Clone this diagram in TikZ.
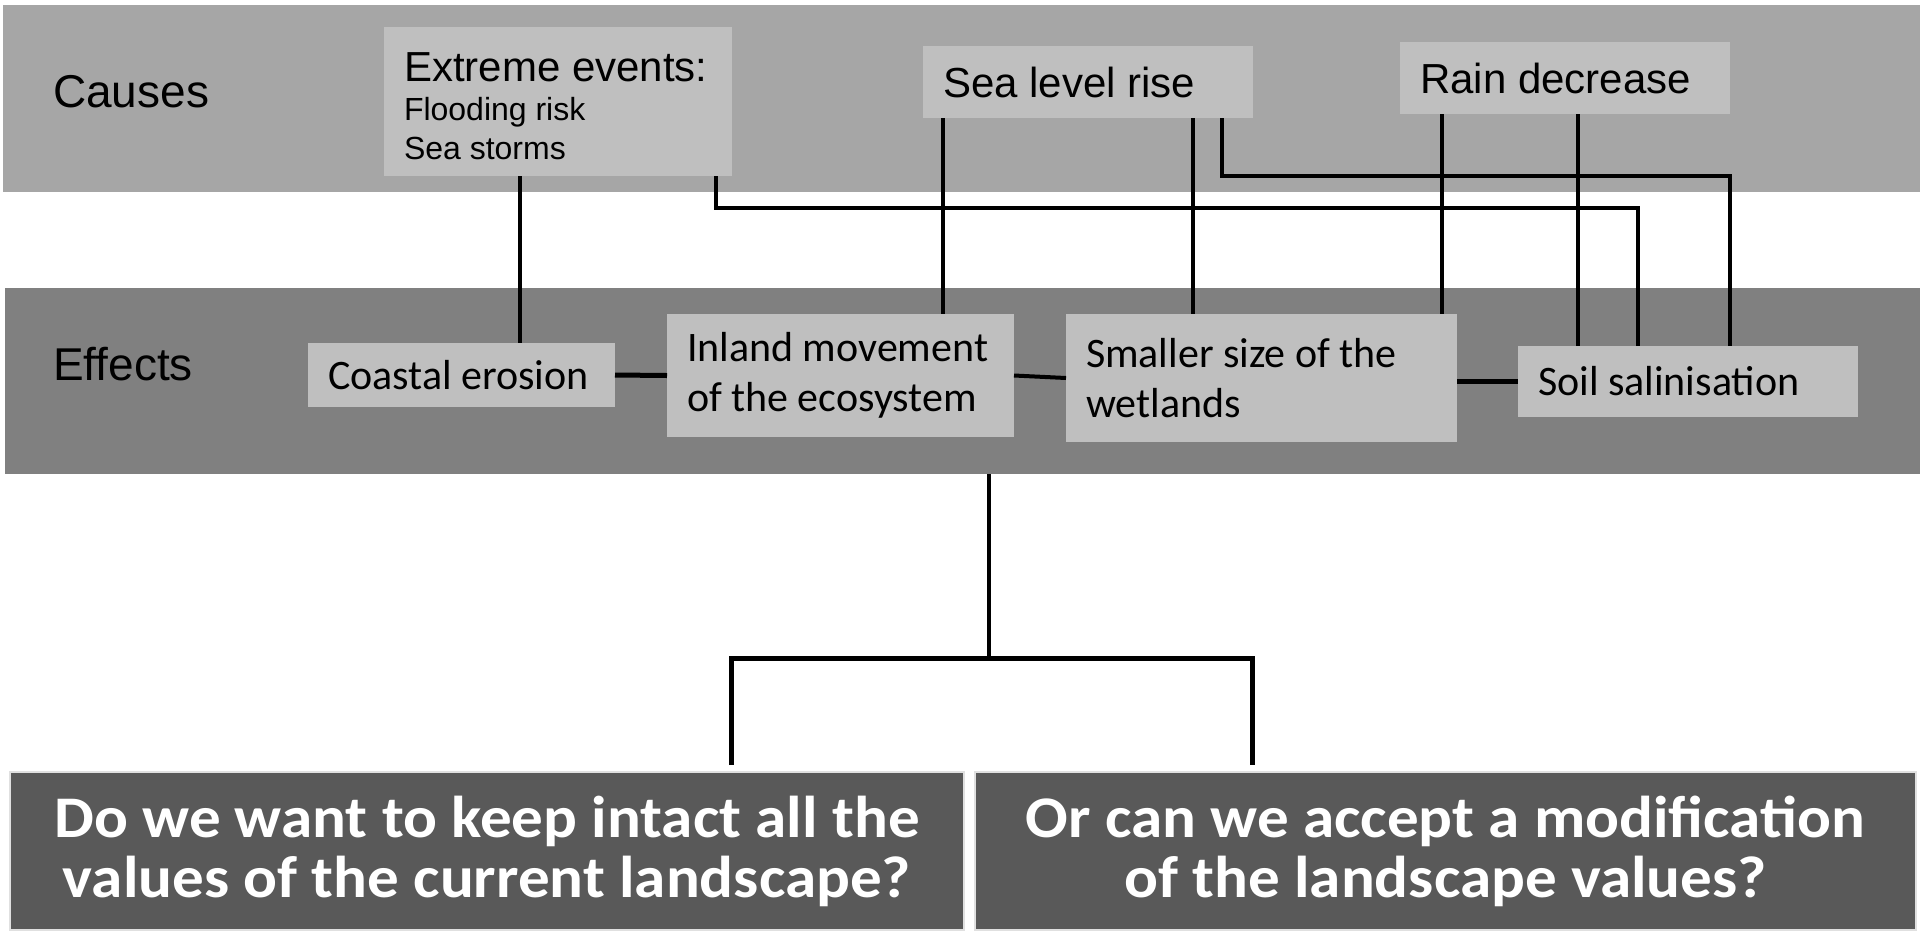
\documentclass[tikz,border=0pt]{standalone}
\usepackage{fontspec}
\setmainfont{Liberation Sans}
\newfontfamily\calib{Carlito}
\newfontfamily\calibwide{Carlito}[FakeStretch=1.07]
\definecolor{causesg}{HTML}{A6A6A6}
\definecolor{boxg}{HTML}{BFBFBF}
\definecolor{effg}{HTML}{808080}
\definecolor{qg}{HTML}{595959}
\newcommand\myresetspaces{\spaceskip=\fontdimen2\font\relax\xspaceskip=\fontdimen2\font\relax}
\begin{document}
\begin{tikzpicture}[x=1pt,y=-1pt,
 band/.style={draw=none,inner sep=0pt,outer sep=0pt,anchor=north west},
 causebox/.style={fill=boxg,inner xsep=20pt,inner ysep=0pt,outer sep=0pt,anchor=north west,align=left,font=\fontsize{42}{39}\selectfont,execute at begin node=\myresetspaces},
 effbox/.style={fill=boxg,inner xsep=20pt,inner ysep=0pt,outer sep=0pt,anchor=north west,align=left,font=\calib\fontsize{42}{50}\selectfont,execute at begin node=\myresetspaces},
 qbox/.style={fill=qg,draw=white!88!black,line width=1.5pt,inner xsep=10pt,inner ysep=0pt,outer sep=0pt,anchor=north west,align=center,text=white,font=\calibwide\bfseries\fontsize{59}{60}\selectfont,execute at begin node=\myresetspaces},
 bandlabel/.style={anchor=base west,inner sep=0pt,font=\fontsize{46}{50}\selectfont},
 conn/.style={line width=4pt},
 hconn/.style={line width=5pt},
]
\useasboundingbox (0,0) rectangle (1920,930);
\fill[white] (0,0) rectangle (1920,930);

% bands
\node[band,fill=causesg,minimum width=1917pt,minimum height=187pt] (causes) at (3,5) {};
\node[band,fill=effg,minimum width=1915pt,minimum height=186pt] (effects) at (5,288) {};
\node[bandlabel] (causeslbl) at (53,107) {Causes};
\node[bandlabel] (effectslbl) at (53,380) {Effects};

% causes
\node[causebox,text width=308pt,minimum height=149pt] (ext) at (384,27)
  {\rule{0pt}{39pt}Extreme events:\\[1pt]\fontsize{32}{38}\selectfont\myresetspaces Flooding risk\\Sea storms};
\node[causebox,text width=290pt,minimum height=72pt] (sea) at (923,46) {Sea level rise};
\node[causebox,text width=290pt,minimum height=72pt] (rain) at (1400,42) {Rain decrease};

% effects
\node[effbox,text width=267pt,minimum height=64pt] (coast) at (308,343) {Coastal erosion};
\node[effbox,text width=307pt,minimum height=123pt] (inland) at (667,314) {Inland movement\\of the ecosystem};
\node[effbox,text width=351pt,minimum height=128pt] (smaller) at (1066,314) {Smaller size of the\\wetlands};
\node[effbox,text width=300pt,minimum height=71pt] (soil) at (1518,346) {Soil salinisation};

% questions
\node[qbox,text width=934pt,minimum height=158pt] (q1) at (10,772) {Do we want to keep intact all the\\values of the current landscape?};
\node[qbox,text width=921pt,minimum height=158pt] (q2) at (975,772) {Or can we accept a modification\\of the landscape values?};

% connectors causes -> effects
\draw[conn] ([xshift=136pt]ext.south west) -- ([xshift=212pt]coast.north west);
\draw[conn] ([xshift=-16pt]ext.south east) -- ++(0,32) -| ([xshift=120pt]soil.north west);
\draw[conn] ([xshift=20pt]sea.south west) -- ([xshift=276pt]inland.north west);
\draw[conn] ([xshift=270pt]sea.south west) -- ([xshift=127pt]smaller.north west);
\draw[conn] ([xshift=299pt]sea.south west) -- ++(0,58) -| ([xshift=212pt]soil.north west);
\draw[conn] ([xshift=42pt]rain.south west) -- ([xshift=376pt]smaller.north west);
\draw[conn] ([xshift=178pt]rain.south west) -- ([xshift=60pt]soil.north west);

% connectors between effects
\draw[hconn] (coast.east) -- (inland.west);
\draw[conn] (inland.east) -- (smaller.west);
\draw[hconn] (smaller.east |- soil.west) -- (soil.west);

% tree to questions
\coordinate (split) at (989,658);
\draw[conn] (split |- effects.south) -- (split);
\draw[hconn,shorten <=7pt,shorten >=7pt] ([xshift=721pt]q1.north west) |- (split) -| ([xshift=277pt]q2.north west);
\end{tikzpicture}
\end{document}
